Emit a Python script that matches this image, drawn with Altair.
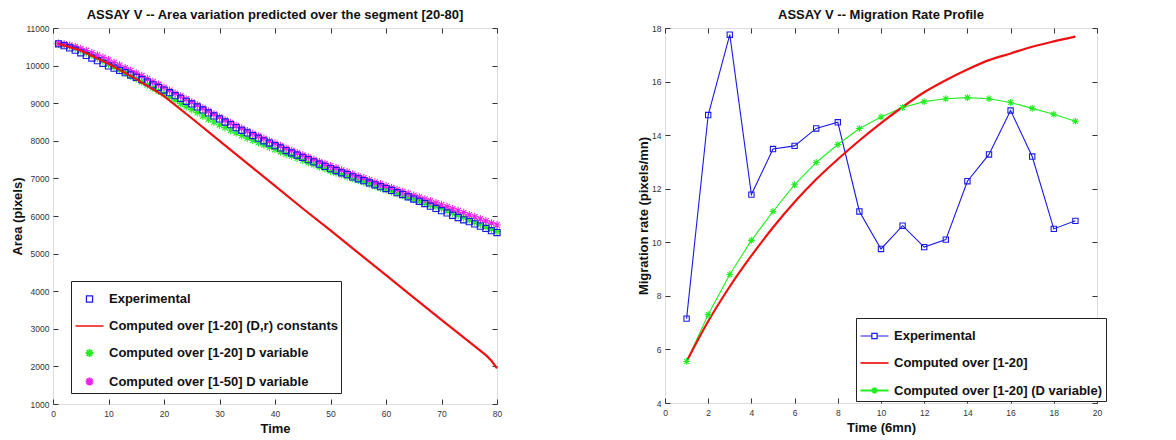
import altair as alt
import pandas as pd

FONT = "Liberation Sans"

# ---------------- Left chart data (Area vs Time) ----------------
area_time = list(range(1, 81))
area_experimental = [
    10580, 10530, 10470, 10410, 10340, 10270, 10200, 10130, 10060, 9990,
    9930, 9870, 9810, 9750, 9690, 9630, 9560, 9490, 9420, 9350,
    9280, 9200, 9130, 9050, 8980, 8900, 8820, 8740, 8660, 8580,
    8500, 8430, 8350, 8280, 8210, 8140, 8070, 8000, 7940, 7870,
    7810, 7740, 7680, 7620, 7560, 7500, 7440, 7380, 7320, 7260,
    7210, 7150, 7100, 7040, 6990, 6940, 6880, 6830, 6780, 6730,
    6680, 6620, 6570, 6510, 6450, 6390, 6330, 6260, 6200, 6140,
    6080, 6020, 5960, 5900, 5850, 5790, 5730, 5670, 5610, 5560]
area_d_var_20 = [
    10580, 10550, 10510, 10460, 10400, 10340, 10270, 10200, 10130, 10050,
    9970, 9890, 9810, 9730, 9650, 9570, 9490, 9410, 9330, 9250,
    9160, 9080, 8990, 8910, 8830, 8750, 8660, 8580, 8500, 8420,
    8350, 8280, 8210, 8140, 8070, 8010, 7950, 7890, 7830, 7770,
    7710, 7650, 7600, 7540, 7480, 7420, 7370, 7310, 7260, 7200,
    7150, 7100, 7050, 7000, 6950, 6900, 6850, 6800, 6750, 6700,
    6650, 6600, 6550, 6500, 6450, 6400, 6350, 6300, 6250, 6200,
    6140, 6080, 6020, 5960, 5900, 5840, 5780, 5710, 5650, 5590]
area_d_var_50 = [
    10590, 10570, 10540, 10500, 10450, 10400, 10340, 10280, 10220, 10150,
    10080, 10010, 9940, 9870, 9800, 9730, 9650, 9570, 9500, 9420,
    9340, 9260, 9190, 9110, 9030, 8950, 8870, 8790, 8710, 8630,
    8550, 8480, 8400, 8330, 8260, 8190, 8120, 8060, 7990, 7930,
    7870, 7800, 7740, 7680, 7620, 7560, 7500, 7440, 7390, 7330,
    7280, 7220, 7170, 7110, 7060, 7010, 6960, 6900, 6850, 6800,
    6750, 6700, 6650, 6600, 6550, 6500, 6450, 6400, 6350, 6300,
    6250, 6190, 6140, 6090, 6030, 5980, 5920, 5870, 5810, 5760]
area_const_time = [1, 5, 10, 15, 20, 25, 30, 35, 40, 45, 50, 55, 60, 65, 70, 75, 78, 79, 80]
area_const = [10580, 10400, 10050, 9640, 9190, 8600, 8000, 7400, 6800, 6200,
              5620, 5020, 4430, 3830, 3240, 2650, 2300, 2150, 1950]

L_NAMES = ["Experimental", "Computed over [1-20] (D,r) constants",
           "Computed over [1-20] D variable", "Computed over [1-50] D variable"]
L_COLORS = ["#1a1ae6", "#ee1111", "#22ee22", "#ee22ee"]

# ---------------- Right chart data (Migration rate) ----------------
rate_time = list(range(1, 20))
rate_experimental = [7.15, 14.75, 17.75, 11.78, 13.48, 13.6, 14.25, 14.48, 11.15, 9.75,
                     10.62, 9.82, 10.1, 12.28, 13.28, 14.92, 13.2, 10.5, 10.8]
rate_computed = [5.55, 7.05, 8.35, 9.5, 10.55, 11.5, 12.35, 13.1, 13.8, 14.45,
                 15.05, 15.6, 16.05, 16.45, 16.8, 17.05, 17.3, 17.5, 17.68]
rate_d_var = [5.55, 7.3, 8.8, 10.07, 11.15, 12.15, 12.98, 13.65, 14.25, 14.68,
              15.03, 15.25, 15.36, 15.4, 15.36, 15.22, 15.0, 14.78, 14.52]

R_NAMES = ["Experimental", "Computed over [1-20]", "Computed over [1-20] (D variable)"]
R_COLORS = ["#1a1ae6", "#ee1111", "#22ee22"]

# symbol paths (drawn with size 784 -> [-1,1] spans 28px)
SQUARE = "M-0.22,-0.22L0.22,-0.22L0.22,0.22L-0.22,0.22Z"
STAR = "M-0.28,0L0.28,0M0,-0.28L0,0.28M-0.2,-0.2L0.2,0.2M-0.2,0.2L0.2,-0.2"
SQUARE_S = "M-0.19,-0.19L0.19,-0.19L0.19,0.19L-0.19,0.19Z"
STAR_S = "M-0.24,0L0.24,0M0,-0.24L0,0.24M-0.17,-0.17L0.17,0.17M-0.17,0.17L0.17,-0.17"
LINE = "M-1,0L1,0"
LINE_SQ = "M-1,0L-0.19,0M0.19,0L1,0M-0.19,-0.19L0.19,-0.19L0.19,0.19L-0.19,0.19Z"
LINE_STAR = "M-1,0L1,0M0,-0.22L0,0.22M-0.15,-0.15L0.15,0.15M-0.15,0.15L0.15,-0.15"
SYM = 784

# ---------------- data frames ----------------
left_pts = pd.DataFrame({
    "t": area_time * 3,
    "v": area_experimental + area_d_var_20 + area_d_var_50,
    "s": [L_NAMES[0]] * 80 + [L_NAMES[2]] * 80 + [L_NAMES[3]] * 80,
})
left_line = pd.DataFrame({"t": area_const_time, "v": area_const, "s": L_NAMES[1]})

right_df = pd.DataFrame({
    "t": rate_time * 3,
    "v": rate_experimental + rate_computed + rate_d_var,
    "s": [R_NAMES[0]] * 19 + [R_NAMES[1]] * 19 + [R_NAMES[2]] * 19,
})


def x_axis(values, title):
    return alt.Axis(orient="bottom", values=values, offset=-5, tickSize=5, domain=False,
                    grid=False, labelFontSize=8.5, labelColor="#333", labelFont=FONT,
                    labelPadding=5, tickColor="#333", title=title, titleFont=FONT,
                    titleFontSize=13, titleFontWeight="bold", titlePadding=5,
                    titleColor="#111", labelFlush=False, format="d")


def y_axis(values, title):
    return alt.Axis(orient="left", values=values, offset=-5, tickSize=5, domain=False,
                    grid=False, labelFontSize=8.5, labelColor="#333", labelFont=FONT,
                    labelPadding=4, tickColor="#333", title=title, titleFont=FONT,
                    titleFontSize=13, titleFontWeight="bold", titlePadding=1,
                    titleColor="#111", labelFlush=False, format="d")


def top_axis(values):
    return alt.Axis(orient="top", values=values, offset=-5, tickSize=5, domain=False,
                    grid=False, labels=False, title=None, tickColor="#333")


def right_axis(values):
    return alt.Axis(orient="right", values=values, offset=-5, tickSize=5, domain=False,
                    grid=False, labels=False, title=None, tickColor="#333")


def legend(x, y):
    return alt.Legend(title=None, orient="none", legendX=x, legendY=y,
                      fillColor="white", strokeColor="#222", padding=3,
                      rowPadding=5, symbolSize=SYM, labelFont=FONT,
                      labelFontSize=13, labelFontWeight="bold", labelColor="#111",
                      labelOffset=4, symbolStrokeWidth=1.3, labelLimit=400)


# ---------------- Left chart ----------------
lx = [0, 10, 20, 30, 40, 50, 60, 70, 80]
ly = list(range(1000, 11001, 1000))
lxs = alt.Scale(domain=[0, 80], nice=False, zero=False)
lys = alt.Scale(domain=[1000, 11000], nice=False, zero=False)
LLEG = (18, 253)
lcol = alt.Color("s:N", scale=alt.Scale(domain=L_NAMES, range=L_COLORS), legend=legend(*LLEG))
lshape = alt.Shape("s:N", scale=alt.Scale(domain=L_NAMES, range=[SQUARE, LINE, STAR, STAR]),
                   legend=legend(*LLEG))
lsw = alt.StrokeWidth("s:N", scale=alt.Scale(domain=L_NAMES, range=[1.2, 2.2, 1.2, 1.2]),
                      legend=legend(*LLEG))

left_points = alt.Chart(left_pts).mark_point(filled=False, size=SYM, strokeWidth=1.1, opacity=1).encode(
    x=alt.X("t:Q", scale=lxs, axis=x_axis(lx, "Time")),
    y=alt.Y("v:Q", scale=lys, axis=y_axis(ly, "Area (pixels)")),
    color=lcol, shape=lshape,
    order=alt.Order("s:N"),
)
left_red = alt.Chart(left_line).mark_line(strokeWidth=2.2).encode(
    x=alt.X("t:Q", scale=lxs, axis=None),
    y=alt.Y("v:Q", scale=lys, axis=None),
    color=lcol,
)
left_legend = alt.Chart(left_pts).transform_filter("datum.t < 0").mark_point(filled=False).encode(
    x=alt.X("t:Q", scale=lxs, axis=None),
    y=alt.Y("v:Q", scale=lys, axis=None),
    color=lcol, shape=lshape, strokeWidth=lsw,
)
left_frame = alt.Chart(left_line).mark_point(opacity=0).encode(
    x=alt.X("t:Q", scale=lxs, axis=top_axis(lx)),
    y=alt.Y("v:Q", scale=lys, axis=right_axis(ly)),
)

left = alt.layer(left_points, left_red, left_legend, left_frame).resolve_axis(
    x="independent", y="independent"
).properties(
    width=444, height=376,
    title=alt.TitleParams("ASSAY V -- Area variation predicted over the segment [20-80]",
                          font=FONT, fontSize=13, fontWeight="bold", frame="group",
                          offset=-1, dy=-3, color="#111"),
)

# ---------------- Right chart ----------------
rx = list(range(0, 21, 2))
ry = list(range(4, 19, 2))
rxs = alt.Scale(domain=[0, 20], nice=False, zero=False)
rys = alt.Scale(domain=[4, 18], nice=False, zero=False)
RLEG = (191, 290)
rcol = alt.Color("s:N", scale=alt.Scale(domain=R_NAMES, range=R_COLORS), legend=legend(*RLEG))
rshape = alt.Shape("s:N", scale=alt.Scale(domain=R_NAMES, range=[LINE_SQ, LINE, LINE_STAR]),
                   legend=legend(*RLEG))
rsw = alt.StrokeWidth("s:N", scale=alt.Scale(domain=R_NAMES, range=[1.2, 2.2, 1.2]),
                      legend=legend(*RLEG))

r_thin = alt.Chart(right_df).transform_filter(
    alt.FieldOneOfPredicate(field="s", oneOf=[R_NAMES[0], R_NAMES[2]])
).mark_line(strokeWidth=1.1).encode(
    x=alt.X("t:Q", scale=rxs, axis=x_axis(rx, "Time (6mn)")),
    y=alt.Y("v:Q", scale=rys, axis=y_axis(ry, "Migration rate (pixels/mn)")),
    color=rcol,
)
r_red = alt.Chart(right_df).transform_filter(
    alt.FieldEqualPredicate(field="s", equal=R_NAMES[1])
).mark_line(strokeWidth=2.2, interpolate="monotone").encode(
    x=alt.X("t:Q", scale=rxs, axis=None),
    y=alt.Y("v:Q", scale=rys, axis=None),
    color=rcol,
)
r_sq = alt.Chart(right_df).transform_filter(
    alt.FieldEqualPredicate(field="s", equal=R_NAMES[0])
).mark_point(filled=False, shape=SQUARE_S, size=SYM, strokeWidth=1.1, opacity=1).encode(
    x=alt.X("t:Q", scale=rxs, axis=None),
    y=alt.Y("v:Q", scale=rys, axis=None),
    color=rcol,
)
r_star = alt.Chart(right_df).transform_filter(
    alt.FieldEqualPredicate(field="s", equal=R_NAMES[2])
).mark_point(filled=False, shape=STAR_S, size=SYM, strokeWidth=1.1, opacity=1).encode(
    x=alt.X("t:Q", scale=rxs, axis=None),
    y=alt.Y("v:Q", scale=rys, axis=None),
    color=rcol,
)
r_legend = alt.Chart(right_df).transform_filter("datum.t < 0").mark_point(filled=False).encode(
    x=alt.X("t:Q", scale=rxs, axis=None),
    y=alt.Y("v:Q", scale=rys, axis=None),
    color=rcol, shape=rshape, strokeWidth=rsw,
)
r_frame = alt.Chart(right_df).mark_point(opacity=0).encode(
    x=alt.X("t:Q", scale=rxs, axis=top_axis(rx)),
    y=alt.Y("v:Q", scale=rys, axis=right_axis(ry)),
)

right = alt.layer(r_thin, r_red, r_sq, r_star, r_legend, r_frame).resolve_axis(
    x="independent", y="independent"
).properties(
    width=432, height=375,
    title=alt.TitleParams("ASSAY V -- Migration Rate Profile",
                          font=FONT, fontSize=13, fontWeight="bold", frame="group",
                          offset=-1, dy=-3, color="#111"),
)

chart = alt.hconcat(left, right, spacing=133).resolve_scale(
    color="independent", shape="independent", strokeWidth="independent"
).resolve_legend(
    color="independent", shape="independent", strokeWidth="independent"
).properties(
    padding={"left": 2, "top": 0, "right": 0, "bottom": 0}
).configure_view(
    stroke="#333", strokeWidth=1
).configure(
    background="white"
)

chart.save("out.html", embed_options={"renderer": "svg", "actions": False})
